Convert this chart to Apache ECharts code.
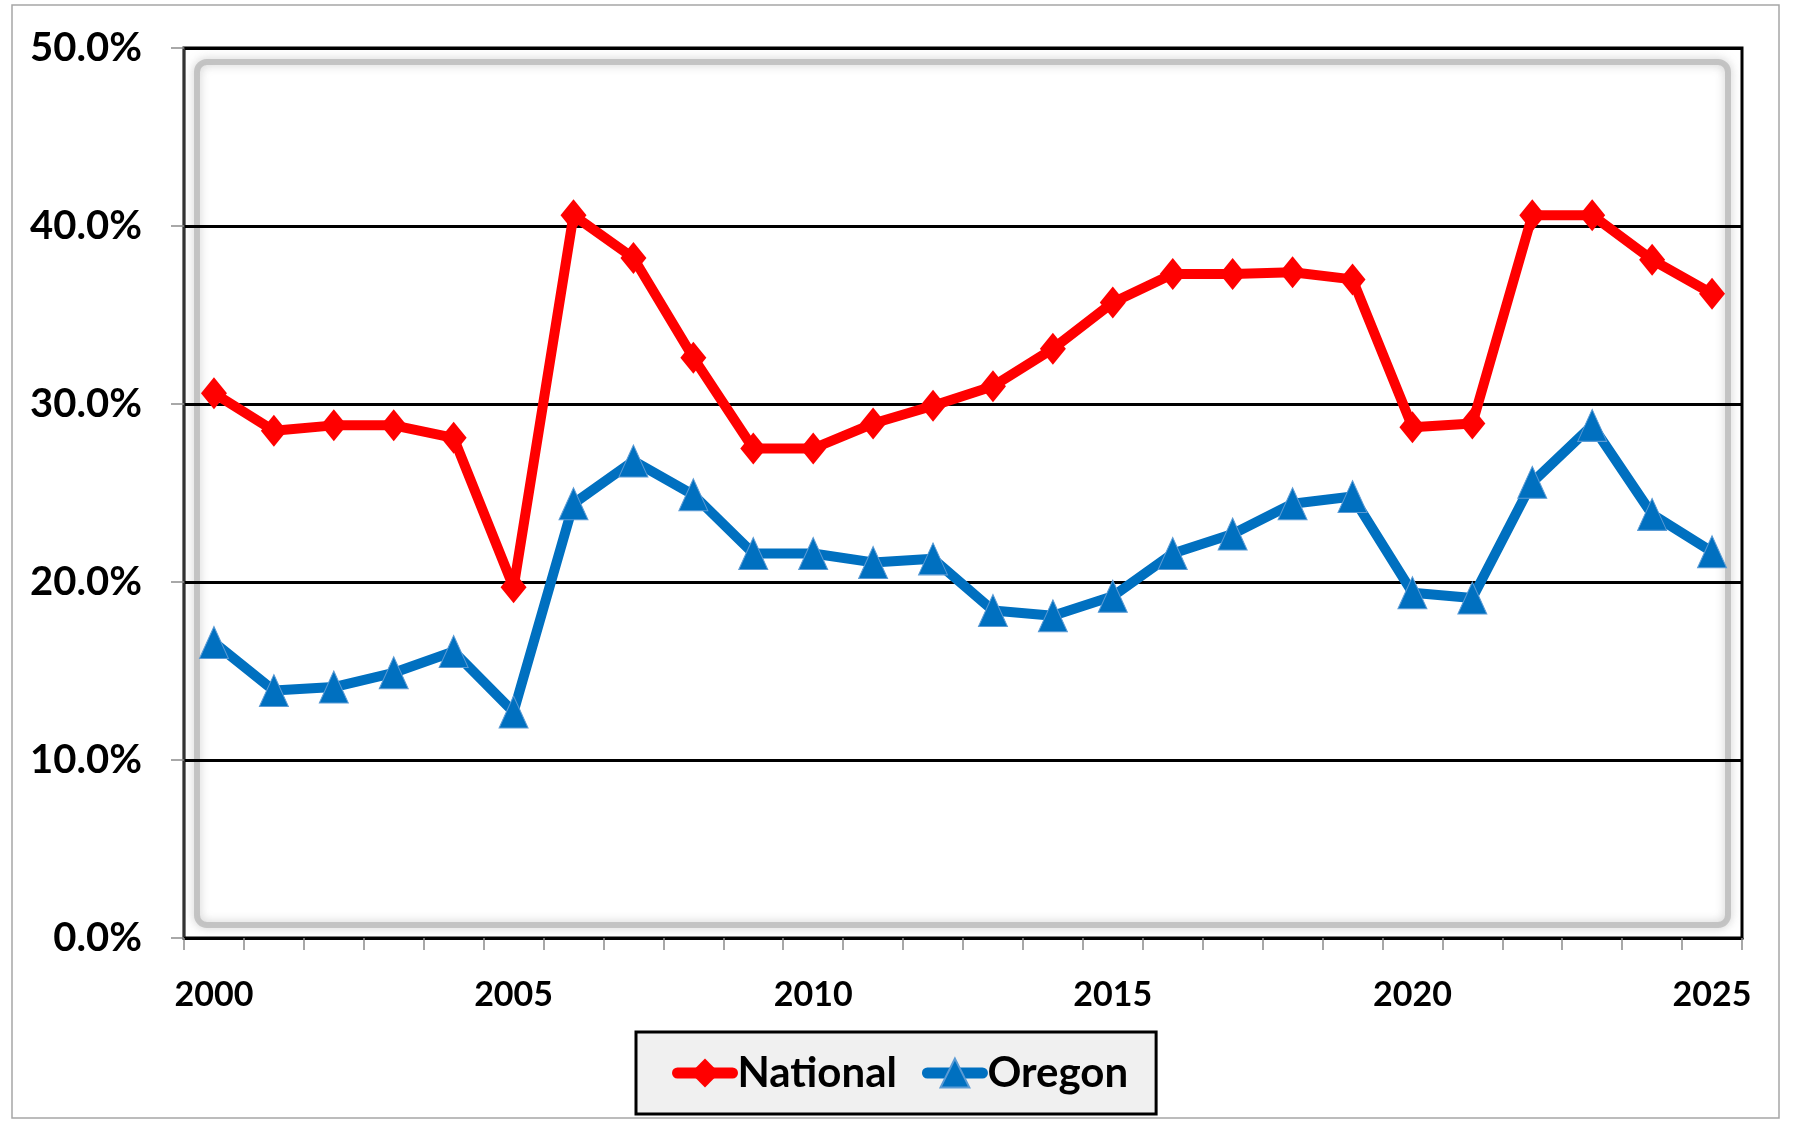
<!DOCTYPE html>
<html>
<head>
<meta charset="utf-8">
<script src="https://cdn.jsdelivr.net/npm/echarts@6/dist/echarts.min.js"></script>
<style>
  html, body { margin: 0; padding: 0; background: #fff; }
  #chart { width: 1793px; height: 1122px; }
</style>
</head>
<body>
<div id="chart"></div>
<script>
// years on the category axis
const years = ['2000', '2001', '2002', '2003', '2004', '2005', '2006', '2007', '2008', '2009',
    '2010', '2011', '2012', '2013', '2014', '2015', '2016', '2017', '2018', '2019',
    '2020', '2021', '2022', '2023', '2024', '2025'];

// percent values
const national = [30.6, 28.5, 28.8, 28.8, 28.1, 19.7, 40.6, 38.2, 32.6, 27.5,
    27.5, 28.9, 29.9, 31.0, 33.1, 35.7, 37.3, 37.3, 37.4, 37.0,
    28.7, 28.9, 40.6, 40.6, 38.1, 36.2];
const oregon = [16.6, 13.9, 14.1, 14.9, 16.1, 12.7, 24.4, 26.8, 24.9, 21.6,
    21.6, 21.1, 21.3, 18.4, 18.1, 19.2, 21.6, 22.7, 24.4, 24.8,
    19.4, 19.1, 25.6, 28.8, 23.8, 21.7];

const FONT = 'Lato';
const chart = echarts.init(document.getElementById('chart'));

// plot area box (px)
const G = { left: 184, top: 48, width: 1558, height: 890 };

chart.setOption({
    animation: false,
    backgroundColor: '#ffffff',
    textStyle: { fontFamily: FONT },
    grid: {
        left: G.left, top: G.top, width: G.width, height: G.height,
        show: true, borderColor: '#000', borderWidth: 3,
        backgroundColor: 'transparent',
    },
    graphic: [
        // outer chart frame
        {
            type: 'rect', z: -2, silent: true,
            shape: { x: 12, y: 5, width: 1767, height: 1113 },
            style: { fill: 'none', stroke: '#a6a6a6', lineWidth: 1.5 },
        },
        // soft inner shadow of the plot area
        {
            type: 'rect', z: -1, silent: true,
            shape: { x: 197, y: 62, width: 1531, height: 863, r: 10 },
            style: {
                fill: 'none', stroke: 'rgba(180,180,180,0.7)', lineWidth: 6,
                shadowBlur: 10, shadowColor: 'rgba(130,130,130,0.6)',
            },
        },
    ],
    legend: {
        left: 636, top: 1032,
        padding: [20, 28, 20, 36],
        backgroundColor: '#f0f0f0',
        borderColor: '#000', borderWidth: 3,
        itemWidth: 55, itemHeight: 36, itemGap: 25,
        lineStyle: { width: 11, cap: 'round' },
        textStyle: { fontFamily: FONT, fontWeight: 'bold', fontSize: 42, color: '#000' },
        data: ['National', 'Oregon'],
    },
    xAxis: {
        type: 'category',
        data: years,
        boundaryGap: true,
        axisLine: { show: true, lineStyle: { color: '#000', width: 3 } },
        axisTick: { show: true, interval: 0, length: 12, lineStyle: { color: '#8c8c8c', width: 1.5 } },
        axisLabel: {
            interval: 4, margin: 40,
            fontFamily: FONT, fontWeight: 'bold', fontSize: 34, color: '#000',
        },
        splitLine: { show: false },
    },
    yAxis: {
        type: 'value',
        min: 0, max: 50, interval: 10,
        axisLine: { show: true, lineStyle: { color: '#333', width: 2 } },
        axisTick: { show: true, length: 13, lineStyle: { color: '#8c8c8c', width: 1.5 } },
        axisLabel: {
            margin: 42,
            formatter: v => v.toFixed(1) + '%',
            fontFamily: FONT, fontWeight: 'bold', fontSize: 40, color: '#000',
        },
        splitLine: { show: true, lineStyle: { color: '#000', width: 3 } },
    },
    series: [
        {
            name: 'National', type: 'line', data: national,
            symbol: 'diamond', symbolSize: [26, 32],
            lineStyle: { color: '#ff0000', width: 10, cap: 'round', join: 'round' },
            itemStyle: { color: '#ff0000' },
        },
        {
            name: 'Oregon', type: 'line', data: oregon,
            symbol: 'triangle', symbolSize: [29, 32],
            lineStyle: { color: '#0070c0', width: 10, cap: 'round', join: 'round' },
            itemStyle: { color: '#0070c0', borderColor: '#5b9bd5', borderWidth: 1 },
        },
    ],
});
</script>
</body>
</html>
